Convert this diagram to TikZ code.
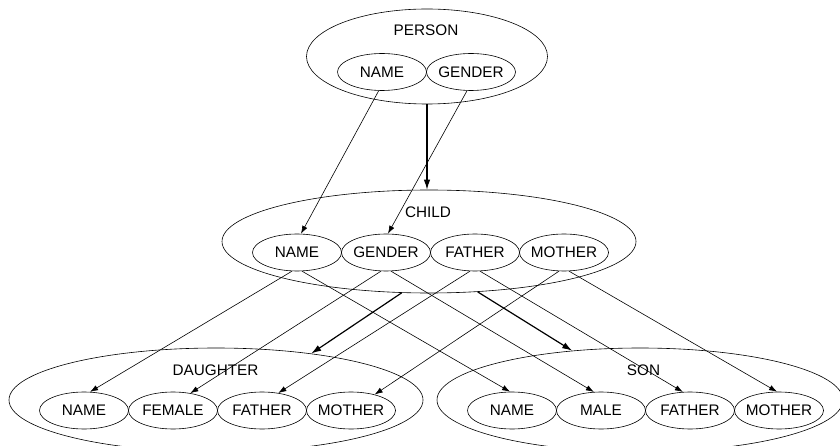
\documentclass[tikz,border=0pt]{standalone}
\usepackage{fontspec}
\setmainfont{Liberation Sans}
\usetikzlibrary{arrows.meta,shapes.geometric}

\newcommand{\fieldtext}[1]{\makebox[0pt]{#1}}

\begin{document}
\begin{tikzpicture}[x=1pt,y=-1pt,
  every node/.style={font=\fontsize{15.3}{18}\selectfont},
  entity/.style={shape=ellipse, draw, line width=0.6pt, inner sep=0pt},
  field/.style={shape=ellipse, draw, line width=0.6pt, inner sep=0pt,
    minimum width=89pt, minimum height=37pt},
  link/.style={line width=0.6pt, -{Latex[length=8pt,width=5.5pt]}},
  isa/.style={line width=1.2pt, -{Latex[length=10pt,width=6.5pt]}},
]
\useasboundingbox (0,0) rectangle (840,446);
\clip (0,0) rectangle (840,446);

% entity types
\node[entity, minimum width=241pt, minimum height=95pt]  (person)   at (427,56.5)  {};
\node[entity, minimum width=414pt, minimum height=103pt] (child)    at (429,241.5) {};
\node[entity, minimum width=414pt, minimum height=104pt] (daughter) at (216,400)   {};
\node[entity, minimum width=406pt, minimum height=104pt] (son)      at (640,400)   {};

\node (personlbl)   at (426,30.5) {PERSON};
\node (childlbl)    at (428,212)  {CHILD};
\node (daughterlbl) at (215.5,370.5) {DAUGHTER};
\node (sonlbl)      at (643.5,370.5) {SON};

% attributes
\node[field] (pn) at (382,72) {\fieldtext{NAME}};
\node[field] (pg) at (471,72) {\fieldtext{GENDER}};

\node[field] (cn) at (297,252.5) {\fieldtext{NAME}};
\node[field] (cg) at (386,252.5) {\fieldtext{GENDER}};
\node[field] (cf) at (475,252.5) {\fieldtext{FATHER}};
\node[field] (cm) at (564,252.5) {\fieldtext{MOTHER}};

\node[field] (dn)  at (84,410.5)  {\fieldtext{NAME}};
\node[field] (df)  at (173,410.5) {\fieldtext{FEMALE}};
\node[field] (dfa) at (262,410.5) {\fieldtext{FATHER}};
\node[field] (dm)  at (351,410.5) {\fieldtext{MOTHER}};

\node[field] (sn)  at (512,410.5) {\fieldtext{NAME}};
\node[field] (sm)  at (601,410.5) {\fieldtext{MALE}};
\node[field] (sf)  at (690,410.5) {\fieldtext{FATHER}};
\node[field] (smo) at (779,410.5) {\fieldtext{MOTHER}};

% inheritance
\draw[isa] (person.south) -- (person.south |- child.north);
\draw[isa] (child.242) -- (daughter.26);
\draw[isa] (child.314) -- (son.144);

% attribute correspondences
\draw[link] (pn.260) -- (cn.78);
\draw[link] (pg.258) -- (cg.84);

\draw[link] (cn.255) -- (dn.72);
\draw[link] (cn.285) -- (sn.96);
\draw[link] (cg.255) -- (df.45);
\draw[link] (cg.285) -- (sm.111);
\draw[link] (cf.255) -- (dfa.47);
\draw[link] (cf.285) -- (sf.111);
\draw[link] (cm.255) -- (dm.34);
\draw[link] (cm.285) -- (smo.96);
\end{tikzpicture}
\end{document}
